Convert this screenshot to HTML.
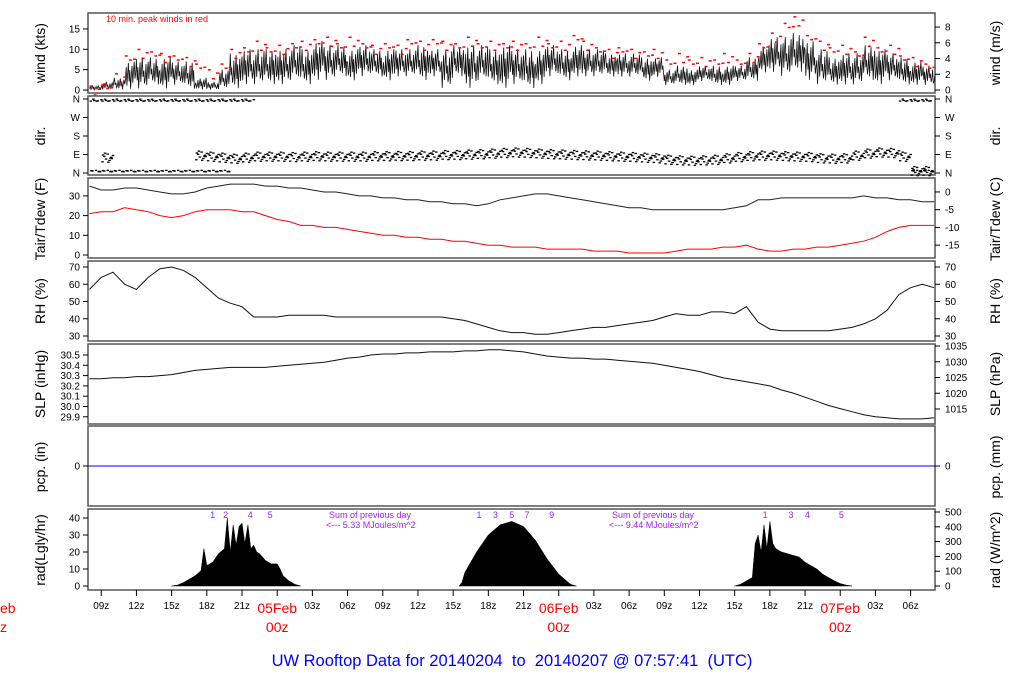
<!DOCTYPE html>
<html><head><meta charset="utf-8">
<style>
html,body{margin:0;padding:0;background:#fff;}
svg{display:block;font-family:"Liberation Sans",sans-serif;}
</style></head>
<body>
<svg id="c" width="1024" height="700" viewBox="0 0 1024 700" xmlns="http://www.w3.org/2000/svg"></svg>
<script>
// ---- data (hourly, starting 04Feb 08z = hour -16 relative to 05Feb 00z) ----
const startHour = -16;
const windLo = [0,0,0,0,0,1,0,1,0,0,0,0,0,1,1,1,1,2,1,2,2,3,2,3,3,2,3,3,2,3,0,3,0,2,1,0,1,0,1,3,2,3,3,3,3,3,3,2,3,1,1,1,2,1,1,2,2,4,4,3,4,2,1,1,1,1,2,1,2,1,1,1,0];
const windHi = [1,2,3,7,8,8,8,7,7,3,2,5,9,10,10,10,10,11,10,12,11,11,10,11,10,10,10,10,11,10,10,11,11,11,10,11,10,10,10,11,10,11,10,10,9,9,9,8,8,5,6,5,6,6,6,6,8,11,13,13,14,12,10,8,9,9,11,10,9,8,7,6,4];
const windGust = [1,2,4,9,10,10,9,9,8,7,5,7,10,11,12,11,11,12,12,13,13,12,13,12,11,12,11,13,12,13,12,12,13,12,12,12,12,12,13,12,12,14,12,11,10,11,10,10,10,8,9,8,8,8,9,8,9,12,14,17,18,14,12,11,11,10,13,11,11,9,8,7,5];
const dirMain = [-1,75,-1,-1,-1,-1,-1,-1,-1,85,80,75,70,75,80,80,80,78,80,82,80,80,80,80,82,82,83,83,85,85,88,88,90,92,95,98,100,98,95,92,90,88,86,85,82,80,78,75,72,65,62,60,62,65,72,78,82,85,85,82,80,78,72,70,72,85,95,100,98,80,10,10,10];
const dirTopN = [1,1,1,1,1,1,1,1,1,1,1,1,1,1,0,0,0,0,0,0,0,0,0,0,0,0,0,0,0,0,0,0,0,0,0,0,0,0,0,0,0,0,0,0,0,0,0,0,0,0,0,0,0,0,0,0,0,0,0,0,0,0,0,0,0,0,0,0,0,1,1,1,1];
const dirBotN = [1,1,1,1,1,1,1,1,1,1,1,1,0,0,0,0,0,0,0,0,0,0,0,0,0,0,0,0,0,0,0,0,0,0,0,0,0,0,0,0,0,0,0,0,0,0,0,0,0,0,0,0,0,0,0,0,0,0,0,0,0,0,0,0,0,0,0,0,0,0,1,1,1];
const tair = [35,33,33,34,34,33,32,31,31,32,34,35,36,36,36,35,35,34,34,33,32,32,31,30,30,29,29,28,28,27,27,26,26,25,26,28,29,30,31,31,30,29,28,27,26,25,24,24,23,23,23,23,23,23,23,24,25,28,28,29,29,29,29,29,29,29,30,29,29,28,28,27,27];
const tdew = [21,22,22,24,23,22,20,19,20,22,23,23,23,22,22,20,18,17,15,15,14,14,13,12,11,10,10,9,9,8,8,7,7,6,5,5,4,4,4,3,3,3,3,2,2,2,1,1,1,1,2,3,3,3,4,4,5,3,2,2,3,3,4,4,5,6,7,9,12,14,15,15,15];
const rh = [57,64,67,60,57,64,69,70,68,64,58,52,49,47,41,41,41,42,42,42,42,41,41,41,41,41,41,41,41,41,41,40,39,37,35,33,32,32,31,31,32,33,34,35,35,36,37,38,39,41,43,42,42,44,44,43,47,38,34,33,33,33,33,33,34,35,37,40,45,54,58,60,58];
const slp = [30.27,30.27,30.28,30.28,30.29,30.29,30.30,30.31,30.33,30.35,30.36,30.37,30.38,30.38,30.38,30.38,30.39,30.40,30.41,30.42,30.43,30.45,30.47,30.48,30.50,30.51,30.51,30.52,30.52,30.53,30.53,30.53,30.54,30.54,30.55,30.55,30.54,30.53,30.51,30.49,30.48,30.47,30.47,30.46,30.46,30.45,30.44,30.43,30.42,30.40,30.38,30.36,30.34,30.31,30.28,30.26,30.24,30.22,30.20,30.16,30.13,30.09,30.05,30.01,29.98,29.95,29.92,29.90,29.89,29.88,29.88,29.88,29.89];
const pcp = [0,0];
const radHours = [-9,-8.5,-8,-7.5,-7,-6.5,-6.25,-6,-5.5,-5,-4.5,-4.25,-4,-3.75,-3.5,-3.25,-3,-2.75,-2.5,-2.25,-2,-1.75,-1.5,-1,-0.5,0,0.25,0.5,1,1.5,2,
 15.5,15.75,16,17,18,19,20,21,22,23,24,25,25.5,
 39,39.5,40,40.5,40.75,41,41.25,41.5,41.75,42,42.25,42.5,43,43.5,44,44.5,45,45.5,46,46.5,47,47.5,48,48.5,49];
const radVals = [0,0.5,2,4,6,9,22,12,14,19,22,40,20,36,24,35,37,25,36,22,24,20,19,15,13,13,10,6,3,1,0,
 0,2,8,20,30,36,38,35,27,16,7,1,0,
 0,1,3,5,25,30,20,36,22,38,25,22,20,19,18,17,14,12,10,7,5,3,1.5,0.5,0];
const hourTicks = [-15,-12,-9,-6,-3,0,3,6,9,12,15,18,21,24,27,30,33,36,39,42,45,48,51,54];
const dayLabels = ["04Feb","05Feb","06Feb","07Feb"];
const radNumLabels = [[-5.5,"1"],[-4.4,"2"],[-2.3,"4"],[-0.6,"5"],[17.2,"1"],[18.6,"3"],[20,"5"],[21.3,"7"],[23.4,"9"],[41.6,"1"],[43.8,"3"],[45.2,"4"],[48.1,"5"]];

// ---- geometry ----
const svg = document.getElementById('c');
const NS = 'http://www.w3.org/2000/svg';
const X0 = 88, X1 = 935;
const x = h => 277.2 + 11.73 * h;
function el(tag, attrs, parent){ const e=document.createElementNS(NS,tag); for(const k in attrs) e.setAttribute(k,attrs[k]); (parent||svg).appendChild(e); return e; }
function txt(s, xx, yy, attrs, parent){ const t=el('text',Object.assign({x:xx,y:yy},attrs),parent); t.textContent=s; return t; }

const panels = [
 {name:'wind', top:13, bot:93},
 {name:'dir', top:96, bot:175},
 {name:'temp', top:178, bot:258},
 {name:'rh', top:261, bot:341},
 {name:'slp', top:344, bot:424},
 {name:'pcp', top:426, bot:506},
 {name:'rad', top:509, bot:590}
];
const yW = v => 90 - v*4.07;
const yWms = v => 90 - v*7.87;
const yD = d => 173 - d*74/360;
const yT = v => 255 - v*1.97;
const yTc = c => yT(c*9/5+32);
const yR = v => 336 - (v-30)*1.725;
const yS = v => 355 + (30.5 - v)*103;
const ySh = v => 346 + (1035 - v)*3.15;
const yP = v => 466 - v*100;
const yRad = v => 586 - v*1.7;
const yRadW = v => 586 - v*0.148;

const lblStyle = {'font-size':14,'fill':'#000','text-anchor':'middle'};
const tickStyle = {'font-size':10,'fill':'#000'};

function leftTicks(vals, yf, labels, g){
  vals.forEach((v,i)=>{
    el('line',{x1:83,x2:88,y1:yf(v),y2:yf(v),stroke:'#000','stroke-width':1},g);
    const t=txt(labels?labels[i]:String(v),80,yf(v)+3.5,Object.assign({'text-anchor':'end'},tickStyle),g);
    
    
  });
}
function rightTicks(vals, yf, labels, g){
  vals.forEach((v,i)=>{
    el('line',{x1:935,x2:940,y1:yf(v),y2:yf(v),stroke:'#000','stroke-width':1},g);
    const t=txt(labels?labels[i]:String(v),945,yf(v)+3.5,Object.assign({'text-anchor':'start'},tickStyle),g);
    
    
  });
}
function vtitle(s, xx, yy, name, g){
  const t=txt(s,0,0,Object.assign({transform:`translate(${xx},${yy}) rotate(-90)`},lblStyle),g);
  
  
}
function poly(pts, color, g, w){
  return el('polyline',{points:pts.map(p=>p[0].toFixed(1)+','+p[1].toFixed(1)).join(' '),fill:'none',stroke:color,'stroke-width':w||1},g);
}
const hx = i => x(startHour + i);

// panel frames
panels.forEach(p=>{
  const g=el('g',{});
  
  
  p.g=g;
  const r=el('rect',{x:X0,y:p.top,width:X1-X0,height:p.bot-p.top,fill:'none',stroke:'#555','stroke-width':1.5},g);
  
  
});

// ---- wind ----
{
  const g=panels[0].g;
  const frac=[0.35,0.8,0.15,0.55,0.95,0.3,0.7,0.05,0.5,0.85,0.25,0.65,1,0.4,0.6,0.2];
  const pts=[];
  windLo.forEach((lo,i)=>{
    const hi=windHi[i];
    frac.forEach((f,k)=>{
      const ff=((k+i*5)%frac.length);
      pts.push([hx(i)+k*11.73/frac.length, yW(lo+(hi-lo)*frac[ff])]);
    });
  });
  const l=poly(pts.filter(p=>p[0]<=X1),'#111',g,0.8);
  
  
  const go=[[0,0],[0.35,1.6],[0.7,0.8]];
  windGust.forEach((gv,i)=>{
    go.forEach((o,k)=>{
      const xx=hx(i)+o[0]*11.73 + (i%3); if(xx>X1-2) return;
      const r=el('rect',{x:xx,y:yW(gv-o[1]-((i+k)%2)*0.6)-0.6,width:3,height:1.5,fill:'#f00'},g);
      
      
    });
  });
  leftTicks([0,5,10,15],yW,null,g);
  rightTicks([0,2,4,6,8],yWms,null,g);
  vtitle('wind (kts)',45,53,'wind-kts-axis-title',g);
  vtitle('wind (m/s)',1000,53,'wind-ms-axis-title',g);
  const n=txt('10 min. peak winds in red',106,22,{'font-size':9,'fill':'#f00'},g);
  
  
}

// ---- direction ----
{
  const g=panels[1].g;
  const offs=[[0,-0.9],[0.15,0.3],[0.3,-0.3],[0.45,0.8],[0.6,-0.6],[0.75,0.1],[0.9,0.5],[0.05,0.6],[0.5,-1],[0.8,-0.2],[0.22,1],[0.68,-0.1]];
  dirMain.forEach((d,i)=>{
    offs.forEach((o,k)=>{
      const xx=hx(i)+o[0]*11.73; if(xx>X1-3) return;
      if(d>=0){
        const r=el('rect',{x:xx,y:yD(d+o[1]*22)-0.5,width:2.5,height:1.3,fill:'#000'},g);
        
        
      }
      if(dirTopN[i] && k%2===0){
        const r=el('rect',{x:xx,y:yD(355+o[1]*5)-0.5,width:2.5,height:1.3,fill:'#000'},g);
        
        
      }
      if(dirBotN[i] && k%2===1){
        const r=el('rect',{x:xx,y:yD(8+o[1]*7)-0.5,width:2.5,height:1.3,fill:'#000'},g);
        
        
      }
    });
  });
  leftTicks([0,90,180,270,360],yD,['N','E','S','W','N'],g);
  rightTicks([0,90,180,270,360],yD,['N','E','S','W','N'],g);
  vtitle('dir.',45,136,'dir-axis-title',g);
  vtitle('dir.',1000,136,'dir-right-axis-title',g);
}

// ---- temperature ----
{
  const g=panels[2].g;
  const a=poly(tair.map((v,i)=>[hx(i),yT(v)]).filter(p=>p[0]<=X1),'#222',g,1);
   
  const d=poly(tdew.map((v,i)=>[hx(i),yT(v)]).filter(p=>p[0]<=X1),'#f00',g,1);
   
  leftTicks([0,10,20,30],yT,null,g);
  rightTicks([0,-5,-10,-15],yTc,null,g);
  vtitle('Tair/Tdew (F)',45,219,'temp-f-axis-title',g);
  vtitle('Tair/Tdew (C)',1000,219,'temp-c-axis-title',g);
}

// ---- RH ----
{
  const g=panels[3].g;
  const l=poly(rh.map((v,i)=>[hx(i),yR(v)]).filter(p=>p[0]<=X1),'#111',g,1);
   
  leftTicks([30,40,50,60,70],yR,null,g);
  rightTicks([30,40,50,60,70],yR,null,g);
  vtitle('RH (%)',45,301,'rh-axis-title',g);
  vtitle('RH (%)',1000,301,'rh-right-axis-title',g);
}

// ---- SLP ----
{
  const g=panels[4].g;
  const l=poly(slp.map((v,i)=>[hx(i),yS(v)]).filter(p=>p[0]<=X1),'#111',g,1);
   
  leftTicks([29.9,30.0,30.1,30.2,30.3,30.4,30.5],yS,['29.9','30.0','30.1','30.2','30.3','30.4','30.5'],g);
  rightTicks([1015,1020,1025,1030,1035],ySh,null,g);
  vtitle('SLP (inHg)',45,384,'slp-inhg-axis-title',g);
  vtitle('SLP (hPa)',1000,384,'slp-hpa-axis-title',g);
}

// ---- pcp ----
{
  const g=panels[5].g;
  const l=el('line',{x1:X0,x2:X1,y1:yP(pcp[0]),y2:yP(pcp[1]),stroke:'#00f','stroke-width':1},g);
   
  leftTicks([0],yP,null,g);
  rightTicks([0],yP,null,g);
  vtitle('pcp. (in)',45,467,'pcp-in-axis-title',g);
  vtitle('pcp. (mm)',1000,467,'pcp-mm-axis-title',g);
}

// ---- radiation ----
{
  const g=panels[6].g;
  let segs=[], cur=[];
  radHours.forEach((h,i)=>{
    cur.push([x(h),yRad(radVals[i])]);
    if(radVals[i]===0 && cur.length>1){ segs.push(cur); cur=[]; }
  });
  segs.forEach(s=>{
    const pts=[[s[0][0],yRad(0)]].concat(s).concat([[s[s.length-1][0],yRad(0)]]);
    const p=el('polygon',{points:pts.map(q=>q[0].toFixed(1)+','+q[1].toFixed(1)).join(' '),fill:'#000',stroke:'#000','stroke-width':0.5},g);
    
    
  });
  leftTicks([0,10,20,30,40],yRad,null,g);
  rightTicks([0,100,200,300,400,500],yRadW,null,g);
  vtitle('rad(Lgly/hr)',45,550,'rad-lgly-axis-title',g);
  vtitle('rad (W/m^2)',1000,550,'rad-wm2-axis-title',g);
  radNumLabels.forEach(r=>{
    const t=txt(r[1],x(r[0]),518,{'font-size':9,'fill':'#a020f0','text-anchor':'middle'},g);
     
  });
  [[329,'Sum of previous day','<--- 5.33 MJoules/m^2'],[612,'Sum of previous day','<--- 9.44 MJoules/m^2']].forEach(s=>{
    const a=txt(s[1],s[0],518,{'font-size':9,'fill':'#a020f0'},g);
     
    const b=txt(s[2],s[0]-3,528,{'font-size':9,'fill':'#a020f0'},g);
     
  });
}

// ---- x axis ----
{
  const g=el('g',{});
  
  
  hourTicks.forEach(h=>{
    el('line',{x1:x(h),x2:x(h),y1:590,y2:596,stroke:'#000','stroke-width':1},g);
    const hr=((h%24)+24)%24;
    if(hr!==0){
      const t=txt(String(hr).padStart(2,'0')+'z',x(h),609,{'font-size':10,'fill':'#000','text-anchor':'middle'},g);
       
    }
  });
  dayLabels.forEach((d,i)=>{
    const cx=x(-24+24*i);
    const a=txt(d,cx,613,{'font-size':14,'fill':'#f00','text-anchor':'middle'},g);
     
    const b=txt('00z',cx,632,{'font-size':14,'fill':'#f00','text-anchor':'middle'},g);
     
  });
  const t=txt('UW Rooftop Data for 20140204  to  20140207 @ 07:57:41  (UTC)',512,666,{'font-size':16.5,'fill':'#00f','text-anchor':'middle','xml:space':'preserve'},g);
  t.setAttribute('style','white-space:pre');
   
}
</script>
</body></html>
